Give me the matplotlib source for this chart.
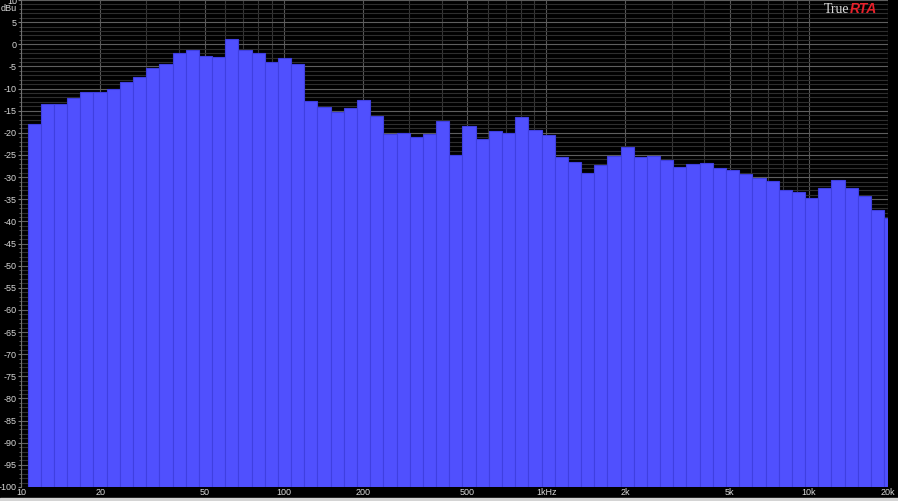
import matplotlib
matplotlib.use("Agg")
import matplotlib.pyplot as plt
from matplotlib.patches import Rectangle

# 1/6-octave band levels (dBu), band k centred at 10 * 2**(k/6)
levels = [-17.9, -13.6, -13.6, -12.2, -10.7, -10.7, -10.2, -8.6, -7.5, -5.3,
          -4.4, -2.0, -1.4, -2.7, -2.9, 1.2, -1.2, -2.0, -3.9, -3.2,
          -4.5, -12.8, -14.2, -15.2, -14.5, -12.7, -16.1, -20.2, -20.0, -20.9,
          -20.2, -17.3, -24.9, -18.4, -21.5, -19.7, -20.0, -16.4, -19.4, -20.6,
          -25.5, -26.5, -29.1, -27.2, -25.3, -23.1, -25.5, -25.2, -26.1, -27.7,
          -27.1, -26.8, -28.0, -28.5, -29.4, -30.1, -30.9, -33.0, -33.3, -34.8,
          -32.5, -30.6, -32.4, -34.2, -37.4, -39.2]
xtick_vals = [10, 20, 50, 100, 200, 500, 1000, 2000, 5000, 10000, 20000]
xtick_labels = ["10", "20", "50", "100", "200", "500", "1kHz", "2k", "5k", "10k", "20k"]
ytick_vals = list(range(-100, 11, 5))

W, H = 898, 501
fig = plt.figure(figsize=(W / 100, H / 100), dpi=100, facecolor="black")
ax = fig.add_axes([21 / W, 14 / H, 867 / W, 487 / H])
ax.set_facecolor("black")

ax.set_xscale("log")
ax.set_xlim(10, 20000)
ax.set_ylim(-100, 10)

# grid behind bars
minor_f = [m * d for d in (10, 100, 1000, 10000) for m in range(1, 10)] + [20000]
for f in minor_f:
    c = "#585858" if f in xtick_vals else "#363636"
    ax.axvline(f, color=c, lw=0.8, zorder=0)
for v in range(-100, 11):
    c = "#5e5e5e" if v % 5 == 0 else "#2e2e2e"
    ax.axhline(v, color=c, lw=0.8, zorder=0)

lefts = [10 * 2 ** ((k - 0.5) / 6) for k in range(1, len(levels) + 1)]
rights = [10 * 2 ** ((k + 0.5) / 6) for k in range(1, len(levels) + 1)]
widths = [r - l for l, r in zip(lefts, rights)]
heights = [v + 100 for v in levels]
ax.bar(lefts, heights, width=widths, bottom=-100, align="edge",
       color="#5050fe", edgecolor="#3f3fe0", linewidth=0.8, zorder=2)

for s in ("top", "right", "bottom"):
    ax.spines[s].set_visible(False)
ax.spines["left"].set_color("#707070")
ax.spines["left"].set_zorder(3)

ax.set_xticks(xtick_vals)
ax.set_xticklabels(xtick_labels)
ax.xaxis.set_minor_locator(matplotlib.ticker.NullLocator())
ax.tick_params(axis="x", length=0, pad=1, labelsize=6.5, labelcolor="#d8d8d8")

ax.set_yticks(ytick_vals)
ax.set_yticklabels([str(v) for v in ytick_vals])
ax.set_yticks(range(-100, 11), minor=True)
ax.tick_params(axis="y", which="major", length=2, color="#808080", pad=1,
               labelsize=6.5, labelcolor="#d8d8d8")
ax.tick_params(axis="y", which="minor", length=1.5, color="#606060")
for lab in ax.get_xticklabels() + ax.get_yticklabels():
    lab.set_family("Liberation Sans")

# unit label at the top-left corner
fig.text(1 / W, 1 - 11 / H, "dBu", color="#d8d8d8", fontsize=6.5,
         family="Liberation Sans", ha="left", va="baseline")

# TrueRTA logo
fig.text(849 / W, 1 - 13 / H, "True", color="#dcdcdc", fontsize=10,
         family="Liberation Serif", ha="right", va="baseline")
fig.text(850 / W, 1 - 13 / H, "RTA", color="#e8202a", fontsize=10,
         family="Liberation Sans", weight="bold", style="italic",
         ha="left", va="baseline")

# light strip at the very bottom of the window
fig.patches.append(Rectangle((0, 0), 1, 3 / H, transform=fig.transFigure,
                             color="#d4d4d4", zorder=0))

fig.savefig("out.png", dpi=100, facecolor="black")
